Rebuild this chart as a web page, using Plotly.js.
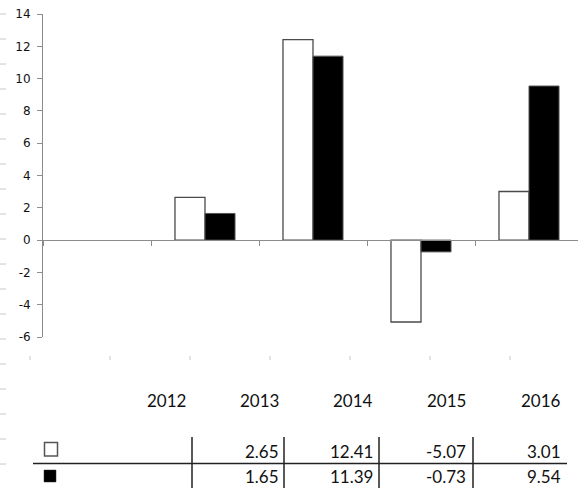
<!DOCTYPE html>
<html>
<head>
<meta charset="utf-8">
<script src="https://cdn.plot.ly/plotly-3.0.1.min.js"></script>
<style>html,body{margin:0;padding:0;background:#fff;}#chart{width:578px;height:488px;}</style>
</head>
<body>
<div id="chart"></div>
<script>
// ---- data ----
var years = ['2012', '2013', '2014', '2015', '2016'];
var seriesA = [null, 2.65, 12.41, -5.07, 3.01];   // white bars
var seriesB = [null, 1.65, 11.39, -0.73, 9.54];   // black bars
var yTicks = [-6, -4, -2, 0, 2, 4, 6, 8, 10, 12, 14];

// ---- geometry helpers (pixel -> paper) ----
var W = 578, H = 488, ML = 43, MR = 0, MT = 14, MB = 151;
var PW = W - ML - MR, PH = H - MT - MB;
function px(x) { return (x - ML) / PW; }
function py(y) { return (H - MB - y) / PH; }

var traces = [
  {type: 'bar', x: years, y: seriesA, name: 'A',
   marker: {color: '#ffffff', line: {color: '#4a4a4a', width: 1.3}}, hoverinfo: 'skip'},
  {type: 'bar', x: years, y: seriesB, name: 'B',
   marker: {color: '#000000', line: {color: '#555555', width: 1}}, hoverinfo: 'skip'}
];

var shapes = [];
var annotations = [];
var tableFont = {family: 'Lato, "Liberation Sans", sans-serif', size: 17, color: '#111111'};

// header row and value rows of the data table
var colRight = [187, 280, 374, 467, 562];
function fmt(v) { return v === null ? '' : v.toFixed(2); }
for (var i = 0; i < years.length; i++) {
  annotations.push({xref: 'paper', yref: 'paper', x: px(colRight[i] + 1), y: py(400), text: years[i],
    showarrow: false, xanchor: 'right', yanchor: 'middle', font: tableFont});
  annotations.push({xref: 'paper', yref: 'paper', x: px(colRight[i] + 1), y: py(451), text: fmt(seriesA[i]),
    showarrow: false, xanchor: 'right', yanchor: 'middle', font: tableFont});
  annotations.push({xref: 'paper', yref: 'paper', x: px(colRight[i] + 1), y: py(476), text: fmt(seriesB[i]),
    showarrow: false, xanchor: 'right', yanchor: 'middle', font: tableFont});
}
// table lines
shapes.push({type: 'line', xref: 'paper', yref: 'paper', x0: px(33), x1: px(567), y0: py(463.5), y1: py(463.5),
  line: {color: '#222', width: 1.5}});
[192, 284, 379, 473].forEach(function (x) {
  shapes.push({type: 'line', xref: 'paper', yref: 'paper', x0: px(x), x1: px(x), y0: py(437), y1: py(490),
    line: {color: '#222', width: 1.5}});
});
// legend keys
shapes.push({type: 'rect', xref: 'paper', yref: 'paper', x0: px(44.5), x1: px(57.5), y0: py(442.5), y1: py(456),
  fillcolor: '#ffffff', line: {color: '#555', width: 1.5}});
shapes.push({type: 'rect', xref: 'paper', yref: 'paper', x0: px(44), x1: px(56), y0: py(470), y1: py(482),
  fillcolor: '#000000', line: {color: '#333', width: 0.5}});
// faint spreadsheet grid remnants
for (var yy = 14; yy <= 464; yy += 25) {
  shapes.push({type: 'line', xref: 'paper', yref: 'paper', x0: px(0), x1: px(6), y0: py(yy), y1: py(yy),
    line: {color: '#c8c8c8', width: 1}});
}
for (var xx = 30; xx <= 590; xx += 80) {
  shapes.push({type: 'line', xref: 'paper', yref: 'paper', x0: px(xx), x1: px(xx), y0: py(356), y1: py(360),
    line: {color: '#c8c8c8', width: 1}});
}

var layout = {
  width: W, height: H,
  margin: {l: ML, r: MR, t: MT, b: MB, pad: 0},
  paper_bgcolor: '#ffffff', plot_bgcolor: '#ffffff',
  showlegend: false,
  barmode: 'group', bargap: 0.444, bargroupgap: 0,
  xaxis: {
    type: 'category', range: [-0.5, -0.5 + PW / 108],
    anchor: 'free', position: 6 / 20,
    showline: true, linecolor: '#8c8c8c', linewidth: 1,
    ticks: 'outside', tickson: 'boundaries', ticklen: 5, tickcolor: '#8c8c8c', tickwidth: 1,
    showticklabels: false, showgrid: false, zeroline: false, fixedrange: true
  },
  yaxis: {
    range: [-6, 14], tickvals: yTicks, ticktext: yTicks.map(String),
    showline: true, linecolor: '#8c8c8c', linewidth: 1,
    ticks: 'outside', ticklen: 5, tickcolor: '#8c8c8c', tickwidth: 1,
    ticklabelstandoff: 4,
    tickfont: {family: '"DejaVu Sans", Verdana, sans-serif', size: 12, color: '#111111'},
    showgrid: false, zeroline: false, fixedrange: true
  },
  shapes: shapes,
  annotations: annotations
};

Plotly.newPlot('chart', traces, layout, {displayModeBar: false, staticPlot: true});
</script>
</body>
</html>
